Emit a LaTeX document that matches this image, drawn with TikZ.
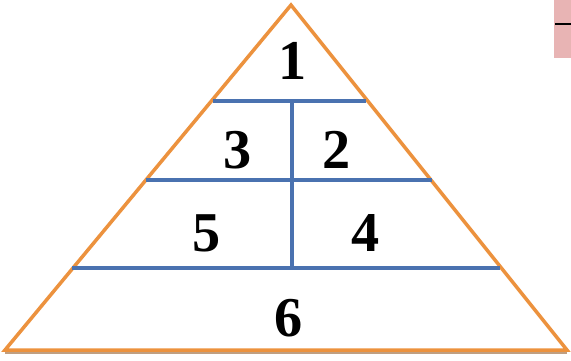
\documentclass[tikz,border=0pt]{standalone}
\usepackage{fontspec}
\setmainfont{Liberation Serif}
\tikzset{
  edge/.style = {line width=2pt, draw={rgb,255:red,236;green,146;blue,62}, line join=miter},
  bar/.style  = {line width=2.2pt, draw={rgb,255:red,74;green,114;blue,176}},
  num/.style  = {font=\fontsize{32}{32}\selectfont\bfseries, inner sep=0pt}
}
\begin{document}
\begin{tikzpicture}[x=0.02cm, y=-0.02cm]
    \useasboundingbox (0,0) rectangle (571,360);
    % Corner mark
    \fill[fill={rgb,255:red,232;green,180;blue,180}] (554,0) rectangle (571,58);
    \draw[line width=1pt] (555,24) -- (571,24);

    % Triangle
    \coordinate (top) at (291,5);
    \coordinate (bl) at (5,350);
    \coordinate (br) at (567,350);
    \draw[edge, draw={rgb,255:red,150;green,95;blue,45}, opacity=0.6] ([yshift=-1.5]bl) -- ([yshift=-1.5]br);
    \draw[edge] (top) -- (bl) -- (br) -- cycle;

    % Bars
    \coordinate (a1) at (213,101);
    \coordinate (a2) at (366,101);
    \coordinate (b1) at (146,180);
    \coordinate (b2) at (432,180);
    \coordinate (c1) at (72,268);
    \coordinate (c2) at (500,268);
    \coordinate (m1) at (292,101);
    \coordinate (m2) at (292,268);
    \draw[bar] (a1) -- (a2);
    \draw[bar] (b1) -- (b2);
    \draw[bar] (c1) -- (c2);
    \draw[bar] (m1) -- (m2);

    % Labels
    \node[num] (n1) at (293,61) {1};
    \node[num] (n3) at (238,150) {3};
    \node[num] (n2) at (337,150) {2};
    \node[num] (n5) at (207,233) {5};
    \node[num] (n4) at (366,233) {4};
    \node[num] (n6) at (289,318) {6};
\end{tikzpicture}
\end{document}
